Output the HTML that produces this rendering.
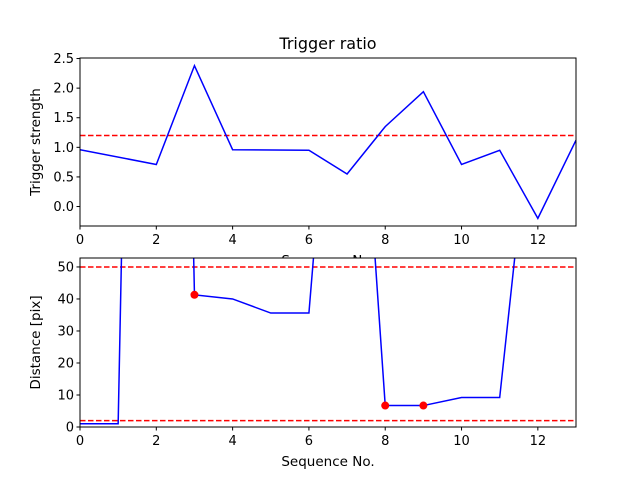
<!DOCTYPE html>
<html><head><meta charset="utf-8"><style>body{margin:0;background:#fff}svg{display:block;font-family:"DejaVu Sans","Liberation Sans",sans-serif}</style></head>
<body>
<svg id="c" width="640" height="480"></svg>
<script>
const xs=[0,2,3,4,6,7,8,9,10,11,12,13];
const ratio=[0.96,0.71,2.38,0.96,0.95,0.55,1.35,1.94,0.71,0.95,-0.2,1.12];
const ratioThreshold=1.2;
const xs2=[0,1,2,3,4,5,6,7,8,9,10,11,12,13];
const dist=[1,1,600,41.3,40,35.6,35.6,180,6.7,6.7,9.2,9.2,120,150];
const markX=[3,8,9];
const markY=[41.3,6.7,6.7];
const distLines=[50,2];
const xTicks=[0,2,4,6,8,10,12];
const yTicks1=[0,0.5,1,1.5,2,2.5];
const yTicks2=[0,10,20,30,40,50];
const NS='http://www.w3.org/2000/svg',svg=document.getElementById('c');
function el(t,a,p){const e=document.createElementNS(NS,t);for(const k in a)e.setAttribute(k,a[k]);(p||svg).appendChild(e);return e;}
function axes(L,T,W,H,xmin,xmax,ymin,ymax,yt,ylab,fmt,name){
  const g=el('g',{});
  const sx=v=>L+(v-xmin)/(xmax-xmin)*W, sy=v=>T+H-(v-ymin)/(ymax-ymin)*H;
  el('rect',{x:L,y:T,width:W,height:H,fill:'#fff'},g);
  const cp='cp'+name;const cl=el('clipPath',{id:cp},g);el('rect',{x:L,y:T,width:W,height:H},cl);
  const pg=el('g',{'clip-path':'url(#'+cp+')'},g);
  xTicks.forEach(v=>{const x=sx(v);el('line',{x1:x,x2:x,y1:T+H,y2:T+H+3.5,stroke:'#000'},g);
    const t=el('text',{x:x,y:T+H+18,'font-size':13,'text-anchor':'middle'},g);t.textContent=v;
    });
  yt.forEach(v=>{const y=sy(v);el('line',{x1:L-3.5,x2:L,y1:y,y2:y,stroke:'#000'},g);
    const t=el('text',{x:L-6,y:y+4.5,'font-size':13,'text-anchor':'end'},g);t.textContent=fmt(v);
    });
  const yl=el('text',{x:0,y:0,'font-size':13.5,'text-anchor':'middle',transform:`translate(${L-40},${T+H/2}) rotate(-90)`},g);yl.textContent=ylab;
  
  const xl=el('text',{x:L+W/2,y:T+H+39,'font-size':13.5,'text-anchor':'middle'},g);xl.textContent='Sequence No.';
  
  return {g,pg,sx,sy,frame:()=>el('rect',{x:L,y:T,width:W,height:H,fill:'none',stroke:'#000','stroke-width':1},g)};
}
const a1=axes(80,58,496,168,0,13,-0.329,2.509,yTicks1,'Trigger strength',v=>v.toFixed(1),'top-axes');
const h1=el('line',{x1:80,x2:576,y1:a1.sy(ratioThreshold),y2:a1.sy(ratioThreshold),stroke:'#f00','stroke-width':1.5,'stroke-dasharray':'5.5,2.5'},a1.pg);

const l1=el('polyline',{points:xs.map((x,i)=>a1.sx(x)+','+a1.sy(ratio[i])).join(' '),fill:'none',stroke:'#00f','stroke-width':1.5},a1.pg);

a1.frame();
const tt=el('text',{x:328,y:49,'font-size':16,'text-anchor':'middle'});tt.textContent='Trigger ratio';

const a2=axes(80,258,496,169,0,13,0,52.8,yTicks2,'Distance [pix]',v=>v,'bottom-axes');
distLines.forEach(v=>{const h=el('line',{x1:80,x2:576,y1:a2.sy(v),y2:a2.sy(v),stroke:'#f00','stroke-width':1.5,'stroke-dasharray':'5.5,2.5'},a2.pg);
  });
const l2=el('polyline',{points:xs2.map((x,i)=>a2.sx(x)+','+a2.sy(dist[i])).join(' '),fill:'none',stroke:'#00f','stroke-width':1.5},a2.pg);

markX.forEach((x,i)=>{const c=el('circle',{cx:a2.sx(x),cy:a2.sy(markY[i]),r:4,fill:'#f00'},a2.pg);
  });
a2.frame();
</script>
</body></html>
